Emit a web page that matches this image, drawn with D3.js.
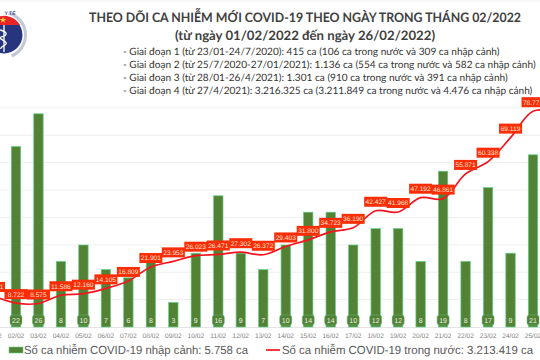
<!DOCTYPE html>
<html><head><meta charset="utf-8">
<script src="https://cdn.jsdelivr.net/npm/d3@7/dist/d3.min.js"></script>
<style>html,body{margin:0;padding:0;background:#fff}svg{display:block;text-rendering:geometricPrecision}</style></head>
<body><svg id="c" width="540" height="360"></svg>
<script>
const dates=["01/02","02/02","03/02","04/02","05/02","06/02","07/02","08/02","09/02","10/02","11/02","12/02","13/02","14/02","15/02","16/02","17/02","18/02","19/02","20/02","21/02","22/02","23/02","24/02","25/02","26/02"];
const imported=[17,22,26,8,10,7,6,8,3,9,16,9,7,10,14,14,10,12,12,8,19,8,17,9,21,13];
const domestic=[11321,8722,8575,11586,12160,14105,16809,21901,23953,26023,26471,27302,26372,29403,31800,34723,36190,42427,41968,47192,46861,55871,60338,69119,78771,78600];
const gridTicks=[10000,20000,30000,40000,50000,60000,70000,80000];
const titleLines=["THEO DÕI CA NHIỄM MỚI COVID-19 THEO NGÀY TRONG THÁNG 02/2022","(từ ngày 01/02/2022 đến ngày 26/02/2022)"];
const phases=["- Giai đoạn 1 (từ 23/01-24/7/2020): 415 ca (106 ca trong nước và 309 ca nhập cảnh)","- Giai đoạn 2 (từ 25/7/2020-27/01/2021): 1.136 ca (554 ca trong nước và 582 ca nhập cảnh)","- Giai đoạn 3 (từ 28/01-26/4/2021): 1.301 ca (910 ca trong nước và 391 ca nhập cảnh)","- Giai đoạn 4 (từ 27/4/2021): 3.216.325 ca (3.211.849 ca trong nước và 4.476 ca nhập cảnh)"];
const legendBar="Số ca nhiễm COVID-19 nhập cảnh: 5.758 ca";
const legendLine="Số ca nhiễm COVID-19 trong nước: 3.213.419 ca";

const svg=d3.select("#c");
const x=d3.scalePoint().domain(dates).range([-6.5,555.5]);
const base=327;
const yLine=d3.scaleLinear().domain([0,80000]).range([base,107.8]);
const yBar=d3.scaleLinear().domain([0,26]).range([base,113.8]);
const fmt=v=>d3.format(",")(v).replace(/,/g,".");

svg.append("line").attr("x1",0).attr("x2",540).attr("y1",1).attr("y2",1).attr("stroke","#eeeeee").attr("stroke-width",1);
svg.append("g").attr("class","grid").selectAll("line").data(gridTicks).join("line")
 .attr("x1",0).attr("x2",540).attr("y1",d=>yLine(d)).attr("y2",d=>yLine(d))
 .attr("stroke","#eeeeee").attr("stroke-width",1);
svg.append("line").attr("x1",0).attr("x2",540).attr("y1",base+.5).attr("y2",base+.5).attr("stroke","#e4e4e4");

// logo
const logo=svg.append("g");
logo.append("path").attr("d",d3.arc()({innerRadius:21,outerRadius:24,startAngle:0.25,endAngle:2.75})).attr("transform","translate(3,35)").attr("fill","#c3c7d6");
logo.append("circle").attr("cx",4).attr("cy",35).attr("r",18.5).attr("fill","#27357f");
logo.append("path").attr("d","M-12,25 A18.5,18.5 0 0 1 20,25 Z").attr("fill","#e8262a");
logo.append("path").attr("d",d3.symbol(d3.symbolStar,14)()).attr("transform","translate(3,20)").attr("fill","#f8d030");
logo.append("path").attr("d","M4,25V52M0,30C8,32 8,35 1,37C-3,39 8,41 6,44C4,47 0,46 1,49").attr("fill","none").attr("stroke","#ffffff").attr("stroke-width",1.3);
logo.append("text").attr("x",10).attr("y",15).attr("text-anchor","middle").attr("font-family","Liberation Sans").attr("font-size",5).attr("font-weight",700).attr("fill","#3a4a90").text("Y TẾ");

// bars
const bw=9.4;
svg.append("g").selectAll("rect").data(dates).join("rect")
 .attr("x",d=>x(d)-bw/2).attr("width",bw)
 .attr("y",(d,i)=>yBar(imported[i])).attr("height",(d,i)=>base-yBar(imported[i]))
 .attr("fill","#548235").attr("stroke","#63d08a").attr("stroke-width",.7);
const bl=svg.append("g");
bl.selectAll("rect").data(dates).join("rect")
 .attr("x",d=>x(d)-6).attr("y",315).attr("width",12).attr("height",10).attr("rx",2.5)
 .attr("fill","#548235").attr("stroke","#5cb878").attr("stroke-width",(d,i)=>imported[i]>=10?.5:0)
 .attr("opacity",(d,i)=>imported[i]>=10?1:0);
bl.selectAll("text").data(dates).join("text")
 .attr("x",d=>x(d)).attr("y",322.6).attr("text-anchor","middle")
 .attr("font-family","Liberation Sans").attr("font-size",7).attr("fill","#e8efe2")
 .text((d,i)=>imported[i]);

// line
const line=d3.line().x(d=>x(d)).y((d,i)=>yLine(domestic[i])).curve(d3.curveCatmullRom.alpha(0.5));
svg.append("path").datum(dates).attr("d",line).attr("fill","none").attr("stroke","#f5141e").attr("stroke-width",1.7);

// value labels
const vl=svg.append("g");
vl.selectAll("rect").data(dates).join("rect")
 .attr("x",d=>x(d)-11.5).attr("y",(d,i)=>yLine(domestic[i])-14).attr("width",23).attr("height",10)
 .attr("fill","#fa2d05");
vl.selectAll("text").data(dates).join("text")
 .attr("x",d=>x(d)).attr("y",(d,i)=>yLine(domestic[i])-6.6).attr("text-anchor","middle")
 .attr("font-family","Liberation Sans").attr("font-size",6.6).attr("fill","#ffe9dc")
 .text((d,i)=>fmt(domestic[i]));

// x labels
svg.append("g").selectAll("text").data(dates).join("text")
 .attr("x",d=>x(d)).attr("y",338).attr("text-anchor","middle")
 .attr("font-family","Liberation Sans").attr("font-size",6.6).attr("fill","#7f7f7f").text(d=>d);

// titles
const T=svg.append("g").attr("font-family","Lato").attr("fill","#404040");
T.append("text").attr("x",89).attr("y",22).attr("font-size",13).attr("font-weight",700).attr("textLength",432).attr("lengthAdjust","spacingAndGlyphs").text(titleLines[0]);
T.append("text").attr("x",175).attr("y",40).attr("font-size",13).attr("font-weight",700).attr("textLength",260).attr("lengthAdjust","spacingAndGlyphs").text(titleLines[1]);
T.selectAll("text.p").data(phases).join("text").attr("class","p")
 .attr("x",123).attr("y",(d,i)=>54.7+i*13.1).attr("font-size",10.1).attr("fill","#333").text(d=>d);

// legend
const L=svg.append("g").attr("font-family","Liberation Sans").attr("font-size",11.8).attr("fill","#595959");
L.append("rect").attr("x",9).attr("y",347).attr("width",14).attr("height",6).attr("fill","#548235").attr("stroke","#63d08a").attr("stroke-width",.6);
L.append("text").attr("x",24).attr("y",354).attr("textLength",224).attr("lengthAdjust","spacingAndGlyphs").text(legendBar);
L.append("line").attr("x1",266).attr("x2",280).attr("y1",350).attr("y2",350).attr("stroke","#f5141e").attr("stroke-width",1.7);
L.append("text").attr("x",282).attr("y",354).attr("textLength",251).attr("lengthAdjust","spacingAndGlyphs").text(legendLine);
</script></body></html>
